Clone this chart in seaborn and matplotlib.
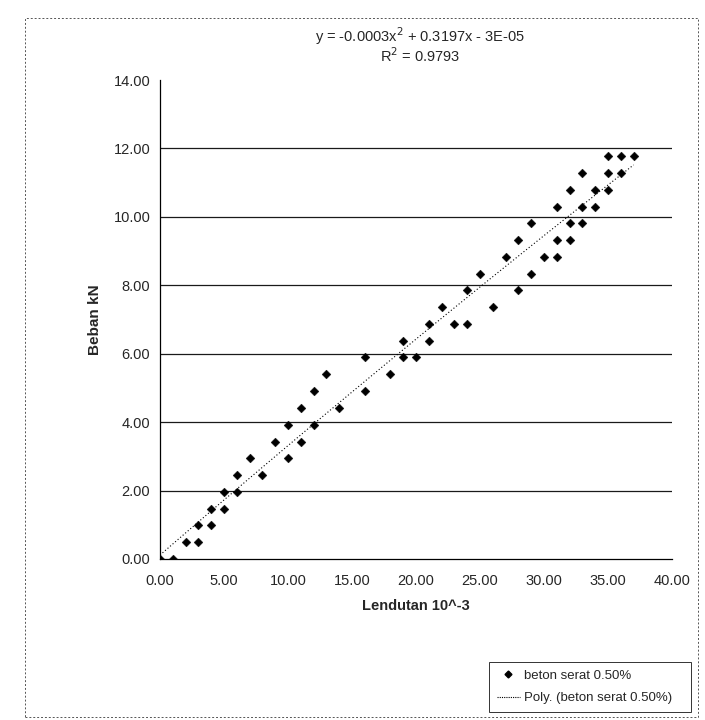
import matplotlib
matplotlib.use("Agg")
import matplotlib.pyplot as plt
from matplotlib.lines import Line2D
from matplotlib.patches import Rectangle
import seaborn as sns
import pandas as pd

# ---- data ----
deflection = [0, 1, 2, 3, 3, 4, 4, 5, 5, 6, 6, 8, 7, 10, 9, 11, 10, 12, 11, 14,
              12, 16, 13, 18, 16, 19, 20, 19, 21, 21, 23, 24, 22, 26, 24, 28, 25, 29,
              27, 30, 31, 28, 31, 32, 29, 32, 33, 31, 33, 34, 32, 34, 35, 33, 35, 36,
              35, 36, 37]
load = [0.00, 0.00, 0.49, 0.49, 0.98, 0.98, 1.47, 1.47, 1.96, 1.96, 2.45, 2.45,
        2.94, 2.94, 3.43, 3.43, 3.92, 3.92, 4.41, 4.41, 4.91, 4.91, 5.40, 5.40,
        5.89, 5.89, 5.89, 6.38, 6.38, 6.87, 6.87, 6.87, 7.36, 7.36, 7.85, 7.85,
        8.34, 8.34, 8.83, 8.83, 8.83, 9.32, 9.32, 9.32, 9.81, 9.81, 9.81,
        10.30, 10.30, 10.30, 10.79, 10.79, 10.79, 11.28, 11.28, 11.28,
        11.77, 11.77, 11.77]
x_ticks = [0, 5, 10, 15, 20, 25, 30, 35, 40]
y_ticks = [0, 2, 4, 6, 8, 10, 12, 14]
series_name = "beton serat 0.50%"
trend_name = "Poly. (beton serat 0.50%)"
equation = "y = -0.0003x$^2$ + 0.3197x - 3E-05"
r_squared = "R$^2$ = 0.9793"

df = pd.DataFrame({"x": deflection, "y": load})

sns.set_theme(style="white")
plt.rcParams["font.family"] = ["Liberation Sans", "DejaVu Sans"]

fig = plt.figure(figsize=(7.05, 7.2), dpi=100)
ax = fig.add_axes([160 / 705, 1 - 559 / 720, (672 - 160) / 705, (559 - 80) / 720])

for v in y_ticks[1:-1]:
    ax.axhline(v, color="#1a1a1a", lw=0.9, zorder=1)

sns.regplot(data=df, x="x", y="y", order=2, ci=None, scatter=False, ax=ax,
            line_kws=dict(color="black", lw=0.8, ls=(0, (1, 2))))
sns.scatterplot(data=df, x="x", y="y", marker="D", s=20, color="black",
                edgecolor="black", linewidth=0.3, ax=ax, zorder=3)

ax.set_xlim(0, 40)
ax.set_ylim(0, 14)
ax.set_xticks(x_ticks)
ax.set_yticks(y_ticks)
ax.set_xticklabels([f"{t:.2f}" for t in x_ticks], fontsize=10.5)
ax.set_yticklabels([f"{t:.2f}" for t in y_ticks], fontsize=10.5)
ax.tick_params(axis="x", direction="out", length=4, width=0.8, color="black", pad=7)
ax.tick_params(axis="y", direction="out", length=4, width=0.8, color="black", pad=3)
for s in ["top", "right"]:
    ax.spines[s].set_visible(False)
for s in ["left", "bottom"]:
    ax.spines[s].set_color("black")
    ax.spines[s].set_linewidth(0.9)
ax.set_xlabel("Lendutan 10^-3", fontsize=10.5, fontweight="bold", labelpad=8)
ax.set_ylabel("Beban kN", fontsize=11, fontweight="bold", labelpad=8)

fig.text(420 / 705, 1 - 36 / 720, equation, ha="center", va="center", fontsize=10.5)
fig.text(420 / 705, 1 - 56 / 720, r_squared, ha="center", va="center", fontsize=10.5)

# chart area border
fig.patches.append(Rectangle((25 / 705, 3 / 720), (698 - 25) / 705, (702 - 3) / 720,
                             transform=fig.transFigure, fill=False,
                             edgecolor="#555555", lw=0.7, ls=(0, (2, 2))))

handles = [Line2D([], [], marker="D", ls="none", color="black", markersize=3.5),
           Line2D([], [], color="black", lw=0.8, ls=(0, (1, 1)))]
leg = fig.legend(handles, [series_name, trend_name], loc="lower left",
                 bbox_to_anchor=(482 / 705, 1 / 720, (698 - 482) / 705, 58 / 720),
                 mode="expand", fontsize=9.5,
                 frameon=True, fancybox=False, handlelength=1.8,
                 handletextpad=0.3, borderpad=0.6, labelspacing=0.8)
leg.get_frame().set_edgecolor("black")
leg.get_frame().set_linewidth(0.7)

fig.savefig("out.png", dpi=100)
